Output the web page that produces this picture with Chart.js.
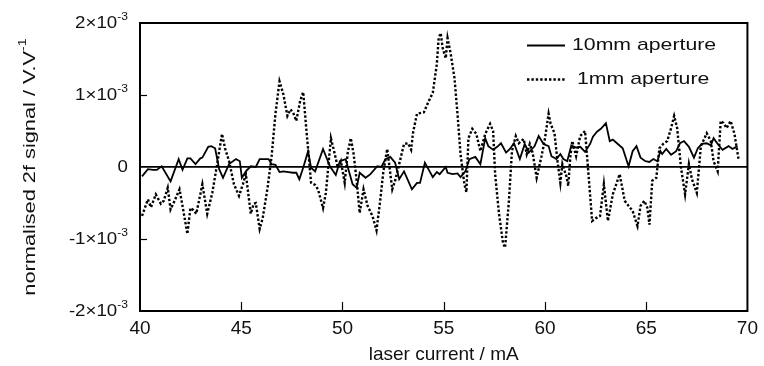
<!DOCTYPE html>
<html>
<head>
<meta charset="utf-8">
<script src="https://cdn.jsdelivr.net/npm/chart.js@4"></script>
<style>
  html, body { margin: 0; padding: 0; background: #fff; }
  #wrap { width: 764px; height: 366px; }
</style>
</head>
<body>
<div id="wrap"><canvas id="chart" width="764" height="366"></canvas></div>
<script>
// laser current (mA) and 2f signal (units of 1e-3 V/V)
const current10mm = [
  40.10, 40.39, 40.64, 40.83, 41.07, 41.51, 41.91, 42.10, 42.34, 42.49, 42.74, 42.98, 43.08, 43.37, 43.52, 43.71,
  43.91, 44.10, 44.40, 44.74, 44.93, 45.03, 45.23, 45.47, 45.72, 45.91, 46.16, 46.35, 46.50, 46.69, 46.89, 47.08,
  47.33, 47.57, 47.72, 47.87, 48.06, 48.30, 48.45, 48.65, 49.04, 49.38, 49.67, 49.87, 50.16, 50.26, 50.50, 50.70,
  50.85, 51.14, 51.38, 51.72, 51.92, 52.12, 52.36, 52.60, 52.80, 53.04, 53.43, 53.68, 53.83, 54.07, 54.46, 54.66,
  54.80, 55.10, 55.19, 55.44, 55.68, 55.83, 56.07, 56.27, 56.56, 56.81, 57.05, 57.20, 57.44, 57.64, 57.83, 58.08,
  58.27, 58.47, 58.76, 59.00, 59.20, 59.49, 59.69, 59.93, 60.18, 60.32, 60.57, 60.76, 60.91, 61.10, 61.30, 61.54,
  61.74, 61.98, 62.23, 62.37, 62.57, 62.76, 63.01, 63.20, 63.35, 63.60, 63.84, 64.13, 64.33, 64.52, 64.72, 64.96,
  65.16, 65.35, 65.55, 65.70, 65.79, 65.99, 66.23, 66.48, 66.67, 66.87, 67.11, 67.36, 67.55, 67.75, 67.99, 68.19,
  68.33, 68.53, 68.77, 69.07, 69.26, 69.51
];
const signal10mm = [
  -0.13, -0.03, -0.04, -0.04, 0.01, -0.20, 0.11, -0.04, 0.12, 0.12, 0.04, 0.12, 0.13, 0.28, 0.29, 0.26,
  -0.03, -0.15, 0.04, 0.11, 0.08, -0.15, -0.06, 0.01, 0.00, 0.11, 0.11, 0.11, 0.04, 0.03, -0.07, -0.06,
  -0.07, -0.08, -0.08, -0.17, -0.01, 0.22, -0.01, -0.06, 0.25, 0.01, -0.11, 0.08, 0.11, 0.00, -0.24, -0.29,
  -0.08, -0.15, -0.10, 0.01, 0.00, 0.11, 0.14, 0.06, -0.17, -0.06, -0.31, -0.22, -0.22, 0.06, -0.14, -0.07,
  -0.10, 0.00, -0.08, -0.10, -0.09, -0.14, -0.06, 0.11, 0.14, 0.04, 0.40, 0.29, 0.24, 0.28, 0.33, 0.20,
  0.25, 0.33, 0.11, 0.32, 0.20, 0.29, 0.43, 0.32, 0.29, 0.15, 0.11, 0.18, 0.11, 0.08, 0.30, 0.27,
  0.28, 0.21, 0.32, 0.42, 0.49, 0.53, 0.61, 0.36, 0.38, 0.32, 0.26, 0.01, 0.22, 0.29, 0.13, 0.08,
  0.07, 0.11, 0.08, 0.22, 0.18, 0.25, 0.17, 0.22, 0.33, 0.36, 0.28, 0.13, 0.26, 0.32, 0.33, 0.30,
  0.40, 0.32, 0.24, 0.29, 0.25, 0.29
];
const current1mm = [
  40.10, 40.39, 40.54, 40.78, 41.03, 41.17, 41.37, 41.51, 41.71, 41.95, 42.10, 42.34, 42.49, 42.64, 42.78, 43.08,
  43.32, 43.57, 43.81, 44.05, 44.20, 44.40, 44.64, 44.89, 45.08, 45.23, 45.47, 45.62, 45.72, 45.91, 46.06, 46.30,
  46.50, 46.69, 46.89, 47.08, 47.28, 47.43, 47.57, 47.72, 47.91, 48.06, 48.21, 48.45, 48.65, 48.79, 49.04, 49.18,
  49.43, 49.62, 49.77, 49.92, 50.11, 50.26, 50.41, 50.55, 50.70, 50.85, 51.04, 51.24, 51.48, 51.68, 51.87, 52.02,
  52.21, 52.46, 52.60, 52.80, 53.04, 53.24, 53.39, 53.48, 53.68, 54.02, 54.22, 54.46, 54.66, 54.75, 54.85, 54.95,
  55.10, 55.19, 55.34, 55.53, 55.68, 55.83, 56.02, 56.12, 56.22, 56.41, 56.61, 56.81, 57.05, 57.29, 57.44, 57.54,
  57.73, 57.93, 58.03, 58.22, 58.37, 58.56, 58.71, 58.95, 59.10, 59.25, 59.39, 59.59, 59.83, 59.98, 60.18, 60.28,
  60.47, 60.62, 60.76, 60.86, 61.06, 61.15, 61.25, 61.35, 61.54, 61.74, 61.98, 62.13, 62.33, 62.52, 62.72, 62.91,
  63.11, 63.35, 63.69, 63.94, 64.13, 64.33, 64.57, 64.72, 64.91, 65.06, 65.16, 65.30, 65.50, 65.65, 65.84, 66.04,
  66.23, 66.38, 66.53, 66.72, 66.92, 67.11, 67.26, 67.50, 67.70, 67.99, 68.19, 68.33, 68.53, 68.68, 68.82, 68.97,
  69.17, 69.36, 69.56
];
const signal1mm = [
  -0.68, -0.45, -0.56, -0.38, -0.51, -0.47, -0.29, -0.59, -0.47, -0.31, -0.54, -0.93, -0.57, -0.60, -0.65, -0.24,
  -0.65, -0.36, 0.04, 0.46, 0.26, 0.08, -0.24, -0.40, -0.24, -0.10, -0.65, -0.51, -0.50, -0.86, -0.71, -0.29,
  0.15, 0.74, 1.19, 1.01, 0.71, 0.80, 0.75, 0.64, 0.92, 1.04, 0.54, -0.22, -0.25, -0.31, -0.57, -0.36,
  0.40, 0.18, -0.01, 0.08, -0.22, 0.20, 0.40, 0.18, -0.19, -0.64, -0.31, -0.54, -0.68, -0.88, -0.45, -0.06,
  0.25, -0.31, -0.19, 0.04, 0.32, 0.33, 0.24, 0.47, 0.74, 0.76, 0.89, 1.03, 1.43, 1.79, 1.86, 1.65,
  1.51, 1.79, 1.58, 1.24, 0.74, 0.18, -0.24, -0.35, 0.40, 0.53, 0.46, 0.22, 0.46, 0.60, 0.50, -0.10,
  -0.65, -1.06, -1.12, -0.47, 0.22, 0.43, 0.33, 0.39, 0.18, 0.32, 0.20, -0.15, 0.15, 0.36, 0.74, 0.60,
  0.47, 0.08, -0.22, 0.04, -0.13, -0.26, 0.13, 0.36, 0.15, 0.43, 0.50, -0.03, -0.75, -0.71, -0.68, -0.24,
  -0.75, -0.38, -0.10, -0.47, -0.54, -0.61, -0.82, -0.54, -0.47, -0.57, -0.80, -0.19, -0.15, 0.26, 0.32, 0.36,
  0.54, 0.71, 0.54, -0.01, -0.38, 0.04, -0.17, -0.36, 0.29, 0.47, 0.36, 0.08, -0.06, 0.64, 0.61, 0.54,
  0.64, 0.46, 0.11
];
const seriesNames = ['10mm aperture', '1mm aperture'];
const xTitle = 'laser current / mA';
const yTitle = 'normalised 2f signal / V.V';
const yTitleSup = '-1';
const yExponent = '-3';

const FONT = "'Liberation Sans', Arial, sans-serif";
const INK = '#111';

// text drawn a little wider than the font, like the original figure
function wideText(ctx, txt, x, y, size, sx) {
  ctx.save();
  ctx.font = size + 'px ' + FONT;
  ctx.translate(x, y);
  ctx.scale(sx, 1);
  ctx.fillText(txt, 0, 0);
  ctx.restore();
}
function wideWidth(ctx, txt, size, sx) {
  ctx.save();
  ctx.font = size + 'px ' + FONT;
  const w = ctx.measureText(txt).width * sx;
  ctx.restore();
  return w;
}

const decorPlugin = {
  id: 'decor',
  afterDraw(chart) {
    const { ctx, chartArea: a, scales: { x, y } } = chart;
    ctx.save();
    ctx.strokeStyle = '#000';
    ctx.fillStyle = INK;

    // frame
    ctx.lineWidth = 2;
    ctx.strokeRect(a.left, a.top, a.right - a.left, a.bottom - a.top);

    // inward tick marks
    ctx.lineWidth = 1.2;
    x.ticks.forEach(t => {
      const px = Math.round(x.getPixelForValue(t.value)) + 0.5;
      if (px <= a.left + 2 || px >= a.right - 2) return;
      ctx.beginPath(); ctx.moveTo(px, a.bottom); ctx.lineTo(px, a.bottom - 9); ctx.stroke();
    });
    y.ticks.forEach(t => {
      const py = Math.round(y.getPixelForValue(t.value)) + 0.5;
      if (py <= a.top + 2 || py >= a.bottom - 2 || t.value === 0) return;
      ctx.beginPath(); ctx.moveTo(a.left, py); ctx.lineTo(a.left + 7, py); ctx.stroke();
    });

    // y tick labels with superscript exponent
    ctx.textBaseline = 'middle';
    const base = 17, sup = 11, sx = 1.1;
    const right = a.left - 12;
    y.ticks.forEach(t => {
      const py = y.getPixelForValue(t.value);
      if (t.value === 0) {
        const w = wideWidth(ctx, '0', base, sx);
        wideText(ctx, '0', right - w, py, base, sx);
        return;
      }
      const main = t.value + '×10';
      const wSup = wideWidth(ctx, yExponent, sup, sx);
      const wMain = wideWidth(ctx, main, base, sx);
      wideText(ctx, main, right - wSup - wMain, py, base, sx);
      wideText(ctx, yExponent, right - wSup, py - 6, sup, sx);
    });

    // y title, rotated
    ctx.save();
    ctx.translate(30, (a.top + a.bottom) / 2);
    ctx.rotate(-Math.PI / 2);
    const tS = 17, tSup = 11, tsx = 1.28;
    const wT = wideWidth(ctx, yTitle, tS, tsx);
    const wTs = wideWidth(ctx, yTitleSup, tSup, tsx);
    const start = -(wT + wTs) / 2;
    wideText(ctx, yTitle, start, 0, tS, tsx);
    wideText(ctx, yTitleSup, start + wT, -7, tSup, tsx);
    ctx.restore();

    // legend
    const ds = chart.data.datasets;
    const rows = [45, 79];
    ds.forEach((d, i) => {
      const ly = rows[i] + 0.5;
      ctx.save();
      ctx.strokeStyle = d.borderColor;
      ctx.lineWidth = d.borderWidth;
      ctx.setLineDash(d.borderDash || []);
      ctx.beginPath(); ctx.moveTo(527, ly); ctx.lineTo(565, ly); ctx.stroke();
      ctx.restore();
      wideText(ctx, d.label, i === 0 ? 572 : 577, rows[i], 17, 1.25);
    });

    ctx.restore();
  }
};

new Chart(document.getElementById('chart'), {
  type: 'line',
  data: {
    datasets: [
      {
        label: seriesNames[0],
        data: current10mm.map((c, i) => ({ x: c, y: signal10mm[i] })),
        borderColor: '#000', borderWidth: 1.8,
        pointRadius: 0, fill: false, tension: 0,
      },
      {
        label: seriesNames[1],
        data: current1mm.map((c, i) => ({ x: c, y: signal1mm[i] })),
        borderColor: '#000', borderWidth: 2.4, borderDash: [2.4, 2],
        pointRadius: 0, fill: false, tension: 0,
      },
    ],
  },
  options: {
    responsive: false, animation: false,
    layout: { padding: { top: 23, right: 10, left: 0, bottom: 0 } },
    plugins: { legend: { display: false }, tooltip: { enabled: false } },
    scales: {
      x: {
        type: 'linear', min: 40, max: 70,
        afterFit: s => { s.height = 55; },
        grid: { display: false, drawTicks: false },
        border: { display: false },
        ticks: { stepSize: 5, padding: 6, color: INK, font: { family: FONT, size: 19 } },
        title: { display: true, text: xTitle, color: INK, padding: { top: 0, bottom: 0 }, font: { family: FONT, size: 19 } },
      },
      y: {
        min: -2, max: 2,
        afterFit: s => { s.width = 140; },
        grid: {
          drawTicks: false,
          color: c => (c.tick && c.tick.value === 0 ? '#000' : 'rgba(0,0,0,0)'),
          lineWidth: 1.8,
        },
        border: { display: false },
        ticks: { stepSize: 1, display: false },
      },
    },
  },
  plugins: [decorPlugin],
});
</script>
</body>
</html>
